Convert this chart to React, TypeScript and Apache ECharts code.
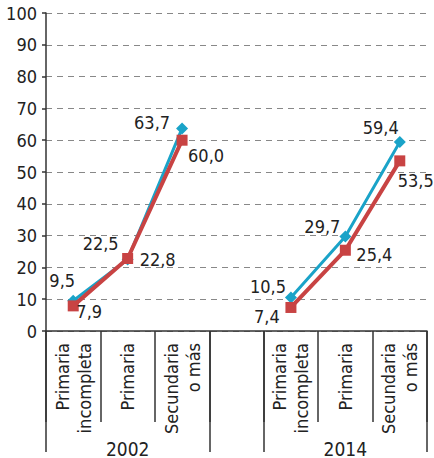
import React, { useEffect, useRef } from "react";
import * as echarts from "echarts";

const categories = ["Primaria\nincompleta", "Primaria", "Secundaria\no más", "", "Primaria\nincompleta", "Primaria", "Secundaria\no más"];
const groupLabels = ["", "2002", "", "", "", "2014", ""];
const blueValues: (number | null)[] = [9.5, 22.5, 63.7, null, 10.5, 29.7, 59.4];
const redValues: (number | null)[] = [7.9, 22.8, 60.0, null, 7.4, 25.4, 53.5];
const yTicks = [0, 10, 20, 30, 40, 50, 60, 70, 80, 90, 100];

const FONT = '"Liberation Sans Narrow", "DejaVu Sans Condensed", "Roboto", sans-serif';
const BLUE = "#1aa3c8";
const RED = "#c84343";

const blueOffsets = [[-11, -20], [-27, -16], [-30, -6], null, [-23, -11], [-23, -10], [-19, -15]];
const redOffsets = [[16, 6], [30, 1], [24, 15], null, [-24, 9], [29, 4], [16, 20]];

function fmt(v: number) {
  return v.toFixed(1).replace(".", ",");
}

function buildData(values: (number | null)[], offsets: (number[] | null)[]) {
  return values.map((v, i) =>
    v === null
      ? null
      : {
          value: v,
          label: {
            show: true,
            position: "inside",
            offset: offsets[i],
            formatter: () => fmt(v),
          },
        }
  );
}

export default function App() {
  const ref = useRef<HTMLDivElement>(null);
  useEffect(() => {
    if (!ref.current) return;
    const chart = echarts.init(ref.current, undefined, { renderer: "svg" });
    chart.setOption({
      animation: false,
      textStyle: { fontFamily: FONT },
      grid: { left: 46, right: 7, top: 13, bottom: 127 },
      xAxis: [
        {
          type: "category",
          data: categories,
          boundaryGap: true,
          axisLine: { show: true, lineStyle: { color: "#333", width: 1.5 } },
          axisTick: { show: true, interval: 0, length: 91, lineStyle: { color: "#333", width: 1.5 } },
          axisLabel: {
            interval: 0,
            rotate: 90,
            margin: 12,
            color: "#222",
            fontSize: 18,
            lineHeight: 22,
            fontFamily: FONT,
          },
        },
        {
          type: "category",
          data: groupLabels,
          position: "bottom",
          boundaryGap: true,
          axisLine: { show: false },
          axisTick: {
            show: true,
            interval: (i: number) => i === 0 || i === 3 || i === 4,
            length: 121,
            lineStyle: { color: "#333", width: 1.5 },
          },
          axisLabel: {
            interval: 0,
            margin: 108,
            color: "#222",
            fontSize: 19,
            fontFamily: FONT,
          },
        },
      ],
      yAxis: {
        type: "value",
        min: yTicks[0],
        max: yTicks[yTicks.length - 1],
        interval: 10,
        axisLine: { show: true, lineStyle: { color: "#333", width: 1.5 } },
        axisTick: { show: true, length: 4, lineStyle: { color: "#333", width: 1.5 } },
        axisLabel: { color: "#222", fontSize: 18, margin: 9, fontFamily: FONT },
        splitLine: { show: true, lineStyle: { color: "#888", type: [6, 5], width: 1.2 } },
      },
      series: [
        {
          type: "line",
          data: buildData(blueValues, blueOffsets),
          connectNulls: false,
          symbol: "diamond",
          symbolSize: 12,
          lineStyle: { color: BLUE, width: 3 },
          itemStyle: { color: BLUE },
          label: { color: "#222", fontSize: 18, fontFamily: FONT },
          z: 2,
        },
        {
          type: "line",
          data: buildData(redValues, redOffsets),
          connectNulls: false,
          symbol: "rect",
          symbolSize: 11,
          lineStyle: { color: RED, width: 4 },
          itemStyle: { color: RED },
          label: { color: "#222", fontSize: 18, fontFamily: FONT },
          z: 3,
        },
      ],
    });
    return () => chart.dispose();
  }, []);
  return <div ref={ref} style={{ width: 434, height: 458, position: "absolute", left: 0, top: 0 }} />;
}
